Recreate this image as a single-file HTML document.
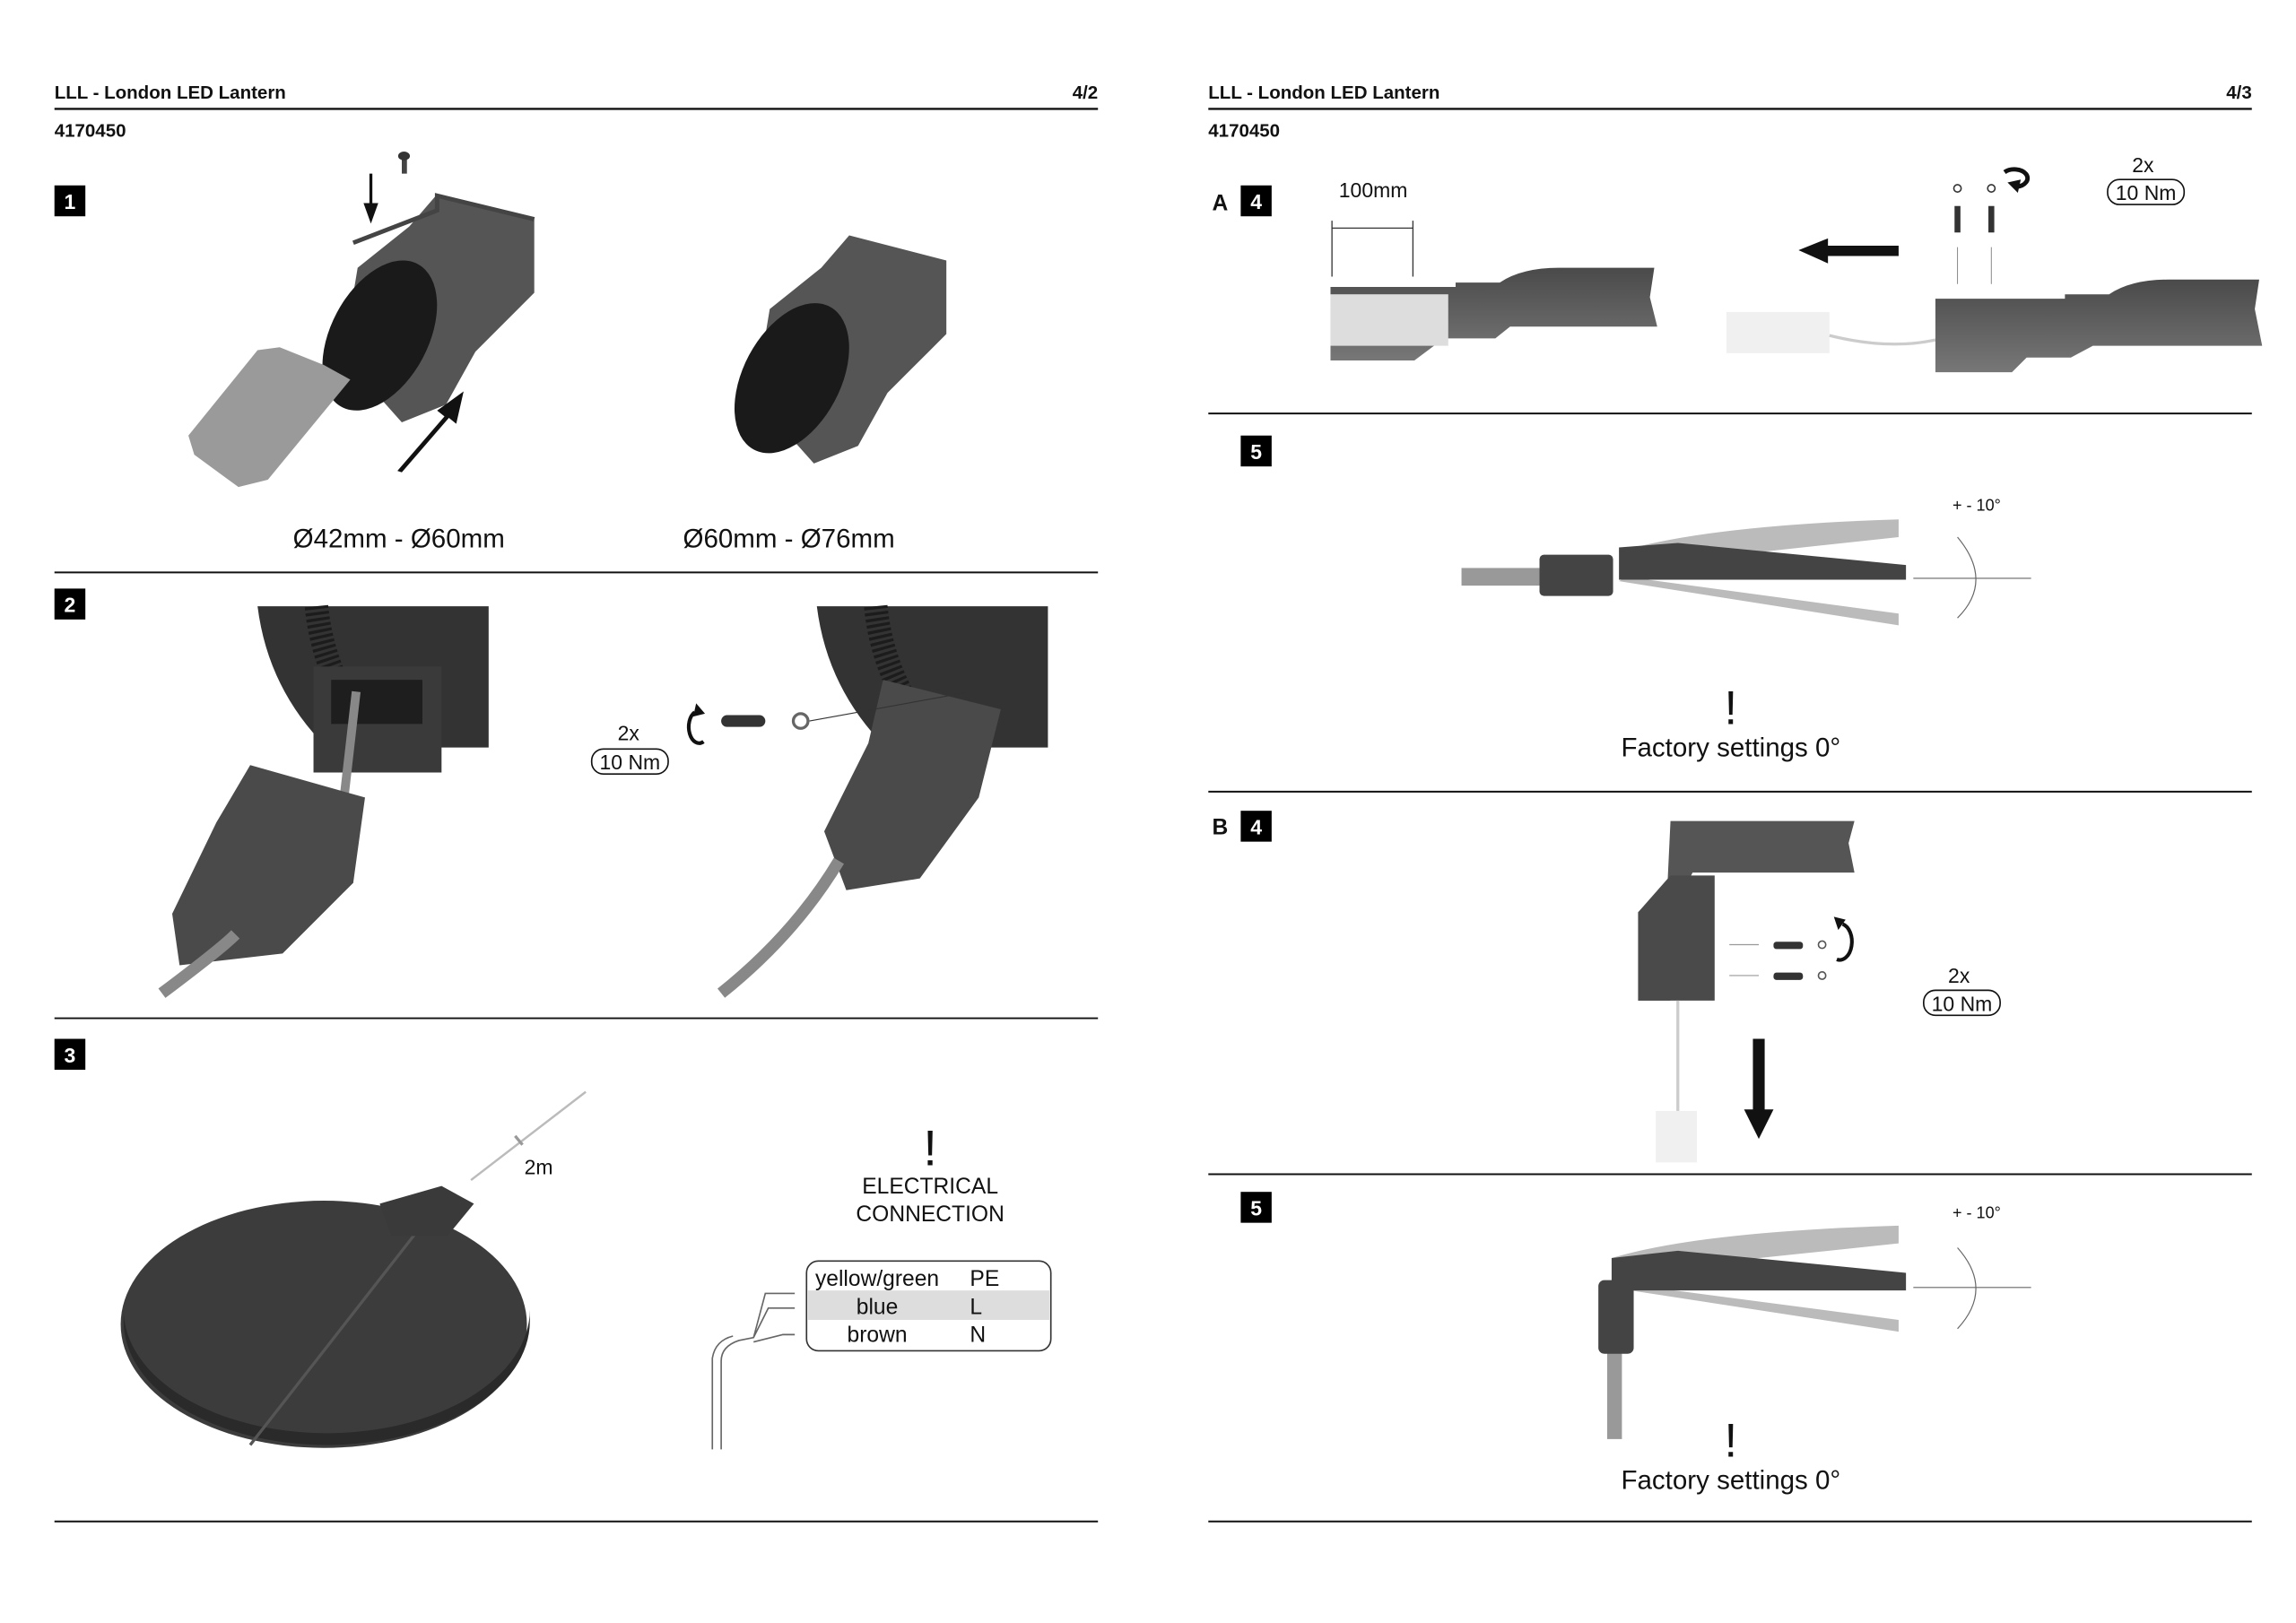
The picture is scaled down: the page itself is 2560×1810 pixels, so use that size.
<!DOCTYPE html>
<html><head><meta charset="utf-8"><style>
html,body{margin:0;padding:0;background:#fff;}
svg{display:block}
text{font-family:"Liberation Sans",sans-serif;fill:#111}
.h{font-weight:bold;font-size:12.5px}
.m{font-size:18px}
.s{font-size:14px}
.b{font-size:14px;fill:#fff;font-weight:bold}
</style></head><body>
<svg width="2560" height="1810" viewBox="0 0 1560 1103" preserveAspectRatio="none" xmlns="http://www.w3.org/2000/svg">
<defs>
<linearGradient id="dg" x1="0" y1="0" x2="0" y2="1"><stop offset="0" stop-color="#4a4a4a"/><stop offset="1" stop-color="#777"/></linearGradient>
</defs>
<!-- headers -->
<text class="h" x="37" y="67">LLL - London LED Lantern</text>
<text class="h" x="746" y="67" text-anchor="end">4/2</text>
<line x1="37" y1="74" x2="746" y2="74" stroke="#111" stroke-width="1.5"/>
<text class="h" x="37" y="93">4170450</text>
<text class="h" x="821" y="67">LLL - London LED Lantern</text>
<text class="h" x="1530" y="67" text-anchor="end">4/3</text>
<line x1="821" y1="74" x2="1530" y2="74" stroke="#111" stroke-width="1.5"/>
<text class="h" x="821" y="93">4170450</text>
<!-- dividers -->
<g stroke="#111" stroke-width="1.2">
<line x1="37" y1="389" x2="746" y2="389"/><line x1="37" y1="692" x2="746" y2="692"/><line x1="37" y1="1034" x2="746" y2="1034"/>
<line x1="821" y1="281" x2="1530" y2="281"/><line x1="821" y1="538" x2="1530" y2="538"/><line x1="821" y1="798" x2="1530" y2="798"/><line x1="821" y1="1034" x2="1530" y2="1034"/>
</g>
<!-- badges -->
<g>
<rect x="37" y="126" width="21" height="21" fill="#000"/><text class="b" x="47.5" y="142" text-anchor="middle">1</text>
<rect x="37" y="400" width="21" height="21" fill="#000"/><text class="b" x="47.5" y="416" text-anchor="middle">2</text>
<rect x="37" y="706" width="21" height="21" fill="#000"/><text class="b" x="47.5" y="722" text-anchor="middle">3</text>
<text class="h" x="829" y="143" text-anchor="middle" style="font-size:15px">A</text>
<rect x="843" y="126" width="21" height="21" fill="#000"/><text class="b" x="853.5" y="142" text-anchor="middle">4</text>
<rect x="843" y="296" width="21" height="21" fill="#000"/><text class="b" x="853.5" y="312" text-anchor="middle">5</text>
<text class="h" x="829" y="567" text-anchor="middle" style="font-size:15px">B</text>
<rect x="843" y="551" width="21" height="21" fill="#000"/><text class="b" x="853.5" y="567" text-anchor="middle">4</text>
<rect x="843" y="810" width="21" height="21" fill="#000"/><text class="b" x="853.5" y="826" text-anchor="middle">5</text>
</g>
<!-- step 1 -->
<rect x="273" y="106" width="3.5" height="12" fill="#444"/><ellipse cx="274.5" cy="106" rx="4" ry="3" fill="#333"/>
<path d="M252 118v22" stroke="#111" stroke-width="2"/><path d="M247 138l5 14 5-14z" fill="#111"/>
<path d="M297 132l66 17v50l-12 12-28 28-20 36-30 12-40-45 10-60 35-28z" fill="#555"/>
<path d="M240 165l57-22 0 -10 66 16" fill="none" stroke="#444" stroke-width="3"/>
<ellipse cx="258" cy="228" rx="33" ry="55" transform="rotate(28 258 228)" fill="#1a1a1a"/>
<path d="M128 296l47-58 15-2 30 12 18 10-56 68-20 5-30-22z" fill="#9a9a9a"/>
<path d="M270 320l32-37-5-4 18-13-5 22-5-4-32 37z" fill="#111"/>
<path d="M577 160l66 17v50l-12 12-28 28-20 36-30 12-40-45 10-60 35-28z" fill="#555"/>
<ellipse cx="538" cy="257" rx="33" ry="55" transform="rotate(28 538 257)" fill="#1a1a1a"/>
<text class="m" x="271" y="372" text-anchor="middle">Ø42mm - Ø60mm</text>
<text class="m" x="536" y="372" text-anchor="middle">Ø60mm - Ø76mm</text>
<!-- step 2 -->
<path d="M175 412h157v96h-110q-40-40-47-96z" fill="#333"/>
<path d="M215 412q5 50 38 90" stroke="#1c1c1c" stroke-width="16" fill="none" stroke-dasharray="2 2"/>
<rect x="213" y="453" width="87" height="72" fill="#3a3a3a"/>
<rect x="225" y="462" width="62" height="30" fill="#1e1e1e"/>
<path d="M242 470l-8 70" stroke="#888" stroke-width="6"/>
<path d="M170 520l78 22-8 58-48 48-70 8-5-35 30-62z" fill="#4a4a4a"/>
<path d="M110 675q40-30 50-40" stroke="#888" stroke-width="8" fill="none"/>
<path d="M555 412h157v96h-110q-40-40-47-96z" fill="#333"/>
<path d="M595 412q5 50 38 90" stroke="#1c1c1c" stroke-width="16" fill="none" stroke-dasharray="2 2"/>
<path d="M600 462l80 20-15 60-40 55-50 8-15-40 30-60z" fill="#4a4a4a"/>
<path d="M490 675q50-40 80-90" stroke="#888" stroke-width="8" fill="none"/>
<rect x="490" y="486" width="30" height="8" rx="4" fill="#333"/><circle cx="544" cy="490" r="5" fill="none" stroke="#666" stroke-width="2"/>
<path d="M550 490l110-20" stroke="#333" stroke-width="0.7"/>
<path d="M472 484a7 11 0 1 0 6 20" stroke="#111" stroke-width="2.5" fill="none"/><path d="M473 478l6 7-8 2z" fill="#111"/>
<text class="s" x="427" y="503" text-anchor="middle">2x</text>
<rect x="402" y="509" width="52" height="17" rx="8" fill="none" stroke="#111"/>
<text class="s" x="428" y="523" text-anchor="middle">10 Nm</text>
<!-- step 3 -->
<ellipse cx="220" cy="900" rx="138" ry="84" fill="#3c3c3c"/>
<path d="M84 890a138 84 0 0 0 276 0v8a138 84 0 0 1-276 0z" fill="#2a2a2a"/>
<path d="M170 982l125-160" stroke="#555" stroke-width="2"/>
<path d="M258 818l42-12 22 12-18 22-38 0z" fill="#3a3a3a"/>
<path d="M320 802l78-60" stroke="#bbb" stroke-width="1.5"/>
<path d="M350 772l5 6" stroke="#999" stroke-width="2"/>
<text class="s" x="366" y="798" text-anchor="middle">2m</text>
<text x="632" y="792" text-anchor="middle" style="font-size:34px">!</text>
<text x="632" y="811" text-anchor="middle" style="font-size:15px">ELECTRICAL</text>
<text x="632" y="830" text-anchor="middle" style="font-size:15px">CONNECTION</text>
<rect x="548" y="857" width="166" height="61" rx="8" fill="#fff" stroke="#333"/>
<rect x="549" y="877" width="164" height="20" fill="#ddd"/>
<text x="596" y="874" text-anchor="middle" style="font-size:15px">yellow/green</text>
<text x="596" y="893" text-anchor="middle" style="font-size:15px">blue</text>
<text x="596" y="912" text-anchor="middle" style="font-size:15px">brown</text>
<text x="659" y="874" style="font-size:15px">PE</text>
<text x="659" y="893" style="font-size:15px">L</text>
<text x="659" y="912" style="font-size:15px">N</text>
<path d="M490 985v-60q0-10 12-14l10-2 8-30h20 M512 909l10-20h18 M512 912l20-5h8" stroke="#666" fill="none"/>
<path d="M484 985v-62q2-12 14-15" stroke="#666" fill="none"/>
<!-- A4 -->
<text class="s" x="933" y="134" text-anchor="middle">100mm</text>
<path d="M905 155h55 M905 150v38 M960 150v38" stroke="#333" stroke-width="0.8"/>
<path d="M904 195h85v-3h30q15-10 40-10h65l-3 20 5 20h-100l-10 8-35 0-20 15h-57z" fill="url(#dg)"/>
<rect x="904" y="200" width="80" height="35" fill="#ddd"/>
<path d="M1222 170l20-8v5h48v7h-48v5z" fill="#111"/>
<rect x="1328" y="140" width="4" height="18" fill="#333"/><rect x="1351" y="140" width="4" height="18" fill="#333"/>
<circle cx="1330" cy="128" r="2.5" fill="none" stroke="#333"/><circle cx="1353" cy="128" r="2.5" fill="none" stroke="#333"/>
<path d="M1330 168v25 M1353 168v25" stroke="#888" stroke-width="0.6"/>
<path d="M1362 117a9 6 0 1 1 8 10" stroke="#111" stroke-width="3" fill="none"/><path d="M1364 124l9 -2-2 9z" fill="#111"/>
<text class="s" x="1456" y="117" text-anchor="middle">2x</text>
<rect x="1432" y="122" width="52" height="17" rx="8" fill="none" stroke="#111"/>
<text class="s" x="1458" y="136" text-anchor="middle">10 Nm</text>
<rect x="1173" y="212" width="70" height="28" fill="#f0f0f0"/>
<path d="M1243 228q40 10 72 3" stroke="#ccc" stroke-width="2" fill="none"/>
<path d="M1315 203h88v-3h30q15-10 40-10h62l-3 20 5 25h-115l-15 8-30 0-10 10h-52z" fill="url(#dg)"/>
<!-- 5 -->
<rect x="993" y="386" width="60" height="12" fill="#999"/>
<path d="M1100 375q60-18 190-22v12l-185 20z" fill="#bbb"/>
<path d="M1100 395l190 30v-8l-185-25z" fill="#bbb"/>
<path d="M1100 372l40-3 155 15v10h-195z" fill="#444"/>
<rect x="1046" y="377" width="50" height="28" rx="3" fill="#444"/>
<path d="M1300 393h80" stroke="#666" stroke-width="0.7"/>
<path d="M1330 365q25 30 0 55" stroke="#666" stroke-width="0.7" fill="none"/>
<text x="1343" y="347" text-anchor="middle" style="font-size:11px">+ - 10°</text>
<text x="1176" y="492" text-anchor="middle" style="font-size:32px">!</text>
<text x="1176" y="514" text-anchor="middle" class="m">Factory settings 0°</text>
<!-- B4 -->
<path d="M1135 558h125l-4 15 4 20h-110l-15 30v57h-22v-60l20-20z" fill="#555"/>
<path d="M1113 620l22-25h30v85h-52z" fill="#4a4a4a"/>
<path d="M1140 680v75" stroke="#ccc" stroke-width="2"/>
<rect x="1125" y="755" width="28" height="35" fill="#f0f0f0"/>
<path d="M1175 642h20 M1175 663h20" stroke="#999" stroke-width="0.7"/>
<rect x="1205" y="640" width="20" height="5" rx="2" fill="#333"/><rect x="1205" y="661" width="20" height="5" rx="2" fill="#333"/>
<circle cx="1238" cy="642" r="2.5" fill="none" stroke="#555"/><circle cx="1238" cy="663" r="2.5" fill="none" stroke="#555"/>
<path d="M1252 628a8 12 0 1 1-4 24" stroke="#111" stroke-width="2.5" fill="none"/><path d="M1246 623l8 2-5 7z" fill="#111"/>
<path d="M1191 706h8v48h6l-10 20-10-20h6z" fill="#111"/>
<text class="s" x="1331" y="668" text-anchor="middle">2x</text>
<rect x="1307" y="673" width="52" height="17" rx="8" fill="none" stroke="#111"/>
<text class="s" x="1333" y="687" text-anchor="middle">10 Nm</text>
<!-- 5 B -->
<path d="M1095 855q60-18 195-22v12l-190 20z" fill="#bbb"/>
<path d="M1095 875l195 30v-8l-190-25z" fill="#bbb"/>
<path d="M1095 855l45-5 155 15v12h-200z" fill="#444"/>
<rect x="1092" y="900" width="10" height="78" fill="#999"/>
<rect x="1086" y="870" width="24" height="50" rx="4" fill="#444"/>
<path d="M1300 875h80" stroke="#666" stroke-width="0.7"/>
<path d="M1330 848q25 28 0 55" stroke="#666" stroke-width="0.7" fill="none"/>
<text x="1343" y="828" text-anchor="middle" style="font-size:11px">+ - 10°</text>
<text x="1176" y="990" text-anchor="middle" style="font-size:32px">!</text>
<text x="1176" y="1012" text-anchor="middle" class="m">Factory settings 0°</text>
</svg>
</body></html>
